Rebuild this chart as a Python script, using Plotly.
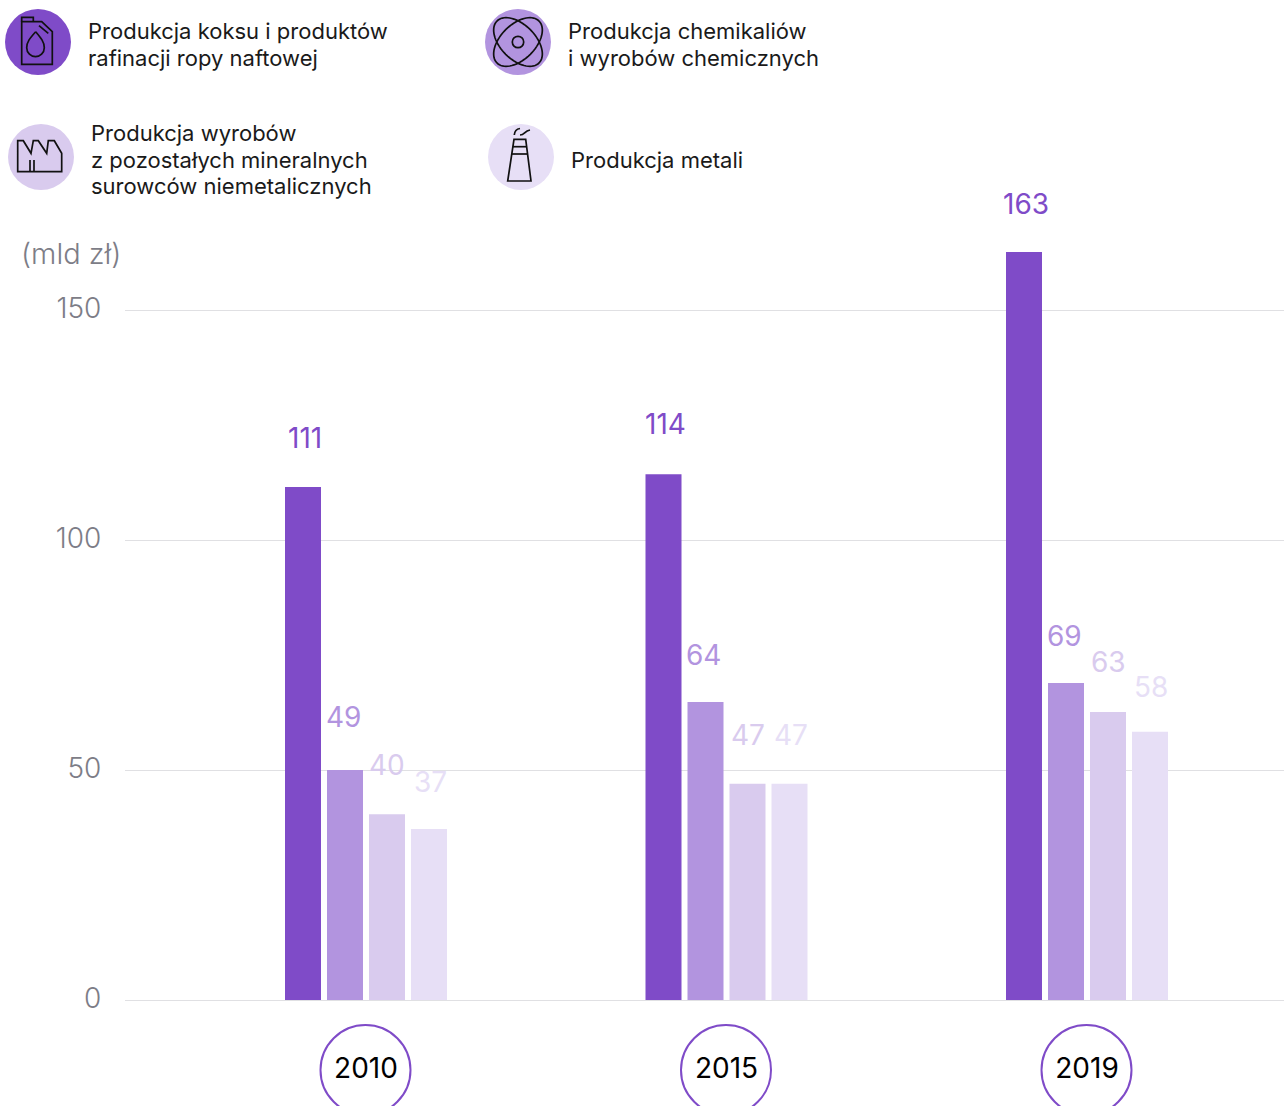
import math
import plotly.graph_objects as go

W, H = 1284, 1106
L, B = 125, 106
FONT = "Inter"

years = ["2010", "2015", "2019"]
series_names = ["Produkcja koksu i produktów rafinacji ropy naftowej",
                "Produkcja chemikaliów i wyrobów chemicznych",
                "Produkcja wyrobów z pozostałych mineralnych surowców niemetalicznych",
                "Produkcja metali"]
coke = [111.5, 114.3, 162.6]
chem = [50.0, 64.8, 68.9]
mineral = [40.4, 47.0, 62.6]
metal = [37.2, 47.0, 58.3]
coke_lab = ["111", "114", "163"]
chem_lab = ["49", "64", "69"]
mineral_lab = ["40", "47", "63"]
metal_lab = ["37", "47", "58"]
colors = ["#7F4BC8", "#B294DF", "#D9CBEE", "#E7DFF6"]
tick_vals = [0, 50, 100, 150]

def px(x): return (x - L) / (W - L)
def py(y): return 1 - y / (H - B)

fig = go.Figure()
all_vals = [coke, chem, mineral, metal]
all_labs = [coke_lab, chem_lab, mineral_lab, metal_lab]
for n, v, c in zip(series_names, all_vals, colors):
    fig.add_bar(name=n, x=years, y=v, marker=dict(color=c, line_width=0), showlegend=False)

anns = []
xshifts = [-61, -23, 21, 64]
yshifts = [[49, 50, 48], [53, 47, 47], [49, 49, 50], [47, 49, 45]]
for v, lab, c, xs, ys in zip(all_vals, all_labs, colors, xshifts, yshifts):
    for i, (val, t) in enumerate(zip(v, lab)):
        anns.append(dict(x=i, y=val, text=t, showarrow=False, xshift=xs, yshift=ys[i],
                         xanchor="center", yanchor="middle",
                         font=dict(family=FONT, size=28, weight=400, color=c)))

def label(x, y, t, size=22, color="#1a1a1a", weight=400):
    anns.append(dict(xref="paper", yref="paper", x=px(x), y=py(y), text=t, showarrow=False,
                     xanchor="left", yanchor="middle", xshift=-2,
                     font=dict(family=FONT, size=size, weight=weight, color=color)))

label(88, 31, "Produkcja koksu i produktów")
label(88, 58, "rafinacji ropy naftowej")
label(568, 31, "Produkcja chemikaliów")
label(568, 58, "i wyrobów chemicznych")
label(91, 133, "Produkcja wyrobów")
label(91, 160, "z pozostałych mineralnych")
label(91, 186, "surowców niemetalicznych")
label(571, 160, "Produkcja metali")
label(21, 253, "(mld zł)", size=29, color="#7d7d87", weight=300)

shapes = []
for (cx, cy), c in zip([(38, 42), (518, 42), (41, 157), (521, 157)], colors):
    shapes.append(dict(type="circle", xref="paper", yref="paper", x0=px(cx-33), x1=px(cx+33),
                       y0=py(cy+33), y1=py(cy-33), fillcolor=c, line_width=0, layer="below"))

INK = dict(color="#111", width=1.7)
def pt(p): return f"{px(p[0]):.5f},{py(p[1]):.5f}"
def line(pts, close=False):
    s = "M " + " L ".join(pt(p) for p in pts) + (" Z" if close else "")
    shapes.append(dict(type="path", xref="paper", yref="paper", path=s, line=INK))
def curve(start, *segments):
    s = "M " + pt(start)
    for seg in segments:
        s += " C " + " ".join(pt(p) for p in seg)
    shapes.append(dict(type="path", xref="paper", yref="paper", path=s, line=INK))

# canister
line([(21.7, 21.7), (21.7, 64.3), (52.3, 64.3), (52.3, 31.7), (41.7, 21.7)], True)
line([(21.7, 21.7), (21.7, 17.3), (33.3, 17.3), (33.3, 21.7)])
line([(39, 25.7), (48.3, 33.3)])
curve((35.7, 31.7),
      [(30, 38), (26.7, 42), (26.7, 47.7)],
      [(26.7, 53), (31, 56.7), (35.5, 56.7)],
      [(40, 56.7), (44.3, 53), (44.3, 47.7)],
      [(44.3, 42), (41, 38), (35.7, 31.7)])
# factory
line([(17.7, 171.7), (17.7, 140.7), (23.3, 140.7), (31, 153.3), (33.3, 140.7), (38.3, 140.7),
      (46.7, 153.3), (48.3, 140.7), (54.3, 140.7), (61.7, 153.3), (61.7, 171.7)], True)
line([(30, 160), (30, 171.7)])
line([(34, 160), (34, 171.7)])
# chimney
line([(507.7, 181), (514, 139.3), (525.7, 139.3), (531, 181)], True)
line([(512.7, 146.7), (526.5, 146.7)])
line([(511.7, 154), (527.5, 154)])
curve((514.3, 135), [(514.5, 132), (516.5, 129), (520, 128.5)])
curve((520, 135), [(525, 135), (524, 131), (530, 130)])
# atom
for ang in (45, -45):
    a, b, t = 29.7, 17.4, math.radians(ang)
    pts = []
    for k in range(72):
        u = a * math.cos(k * math.pi / 36)
        v = b * math.sin(k * math.pi / 36)
        pts.append((518 + u * math.cos(t) - v * math.sin(t), 42 + u * math.sin(t) + v * math.cos(t)))
    line(pts, True)
shapes.append(dict(type="circle", xref="paper", yref="paper", x0=px(512.3), x1=px(523.7),
                   y0=py(47.7), y1=py(36.3), line=INK))

for i in range(len(years)):
    shapes.append(dict(type="circle", xref="x", yref="paper", xsizemode="pixel", ysizemode="pixel",
                       xanchor=i, yanchor=0, x0=-45.5, x1=44.5, y0=-25, y1=-115,
                       line=dict(color="#7F4BC8", width=2), fillcolor="rgba(0,0,0,0)"))

step = 360.5
left = (366 - L) / step
fig.update_layout(
    width=W, height=H, autosize=False,
    margin=dict(l=L, r=0, t=0, b=B, pad=0),
    paper_bgcolor="white", plot_bgcolor="white",
    barmode="group", bargap=1 - 168 / step, bargroupgap=6 / 42,
    annotations=anns, shapes=shapes,
    xaxis=dict(type="category", range=[-left, -left + (W - L) / step], showgrid=False, zeroline=False,
               showline=False, ticks="outside", ticklen=43, tickcolor="rgba(0,0,0,0)",
               tickfont=dict(family=FONT, size=28, weight=400, color="#000")),
    yaxis=dict(range=[0, (H - B) / 4.6], tickvals=tick_vals, showgrid=True, gridcolor="#E0E0E3", gridwidth=1.3,
               zeroline=True, zerolinecolor="#E0E0E3", zerolinewidth=1.3, showline=False,
               ticks="outside", ticklen=17, tickcolor="rgba(0,0,0,0)", ticklabelshift=-2,
               tickfont=dict(family=FONT, size=28, weight=300, color="#7d7d87")),
)
fig.write_html("out.html", config=dict(displayModeBar=False),
               post_script="document.body.style.margin='0';document.documentElement.style.overflow='hidden';")
